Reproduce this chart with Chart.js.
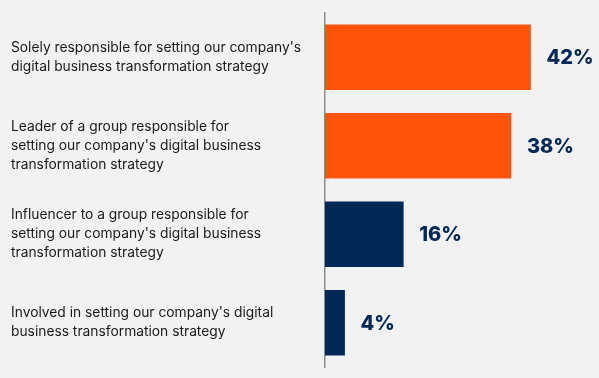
<!DOCTYPE html>
<html>
<head>
<meta charset="utf-8">
<script src="https://cdn.jsdelivr.net/npm/chart.js@4.4.1/dist/chart.umd.min.js"></script>
<style>
  html, body { margin: 0; padding: 0; background: #f2f2f2; }
  #wrap { width: 599px; height: 378px; position: relative; }
</style>
</head>
<body>
<div id="wrap"><canvas id="chRoles"></canvas></div>
<script>
/* Ruolo nella strategia di trasformazione digitale (%). */
const categories = [
  ["Solely responsible for setting our company's", "digital business transformation strategy"],
  ["Leader of a group responsible for", "setting our company's digital business", "transformation strategy"],
  ["Influencer to a group responsible for", "setting our company's digital business", "transformation strategy"],
  ["Involved in setting our company's digital", "business transformation strategy"]
];
const values = [42, 38, 16, 4];
const barColors = ['#ff550b', '#ff550b', '#002856', '#002856'];

// etichette percentuali a destra della barra
const valueLabels = {
  id: 'valueLabels',
  afterDatasetsDraw(chart) {
    const ctx = chart.ctx;
    const meta = chart.getDatasetMeta(0);
    ctx.save();
    ctx.font = '800 20px Inter, "DejaVu Sans", sans-serif';
    ctx.fillStyle = '#002856';
    ctx.textAlign = 'left';
    ctx.textBaseline = 'middle';
    meta.data.forEach((bar, i) => {
      ctx.fillText(values[i] + '%', bar.x + 16, bar.y + 1);
    });
    ctx.restore();
  }
};

new Chart(document.getElementById('chRoles'), {
  type: 'bar',
  data: {
    labels: categories,
    datasets: [{ data: values, backgroundColor: barColors, barThickness: 65 }]
  },
  options: {
    indexAxis: 'y',
    responsive: true, maintainAspectRatio: false,
    animation: false,
    layout: { padding: { top: 13, bottom: 11, left: 11, right: 0 } },
    plugins: { legend: { display: false }, tooltip: { enabled: false } },
    scales: {
      x: { display: false, min: 0, max: 56 },
      y: {
        grid: { display: false },
        border: { display: true, color: '#8c8c8c', width: 1.5 },
        ticks: {
          crossAlign: 'far', padding: 0,
          color: '#1a1a1a',
          font: { family: 'Inter, "DejaVu Sans", sans-serif', size: 13.8, lineHeight: 1.38 }
        },
        afterFit(scale) {
          scale.width = 314;
          scale.paddingTop = 0;
          scale.paddingBottom = 0;
        }
      }
    }
  },
  plugins: [valueLabels]
});
</script>
</body>
</html>
